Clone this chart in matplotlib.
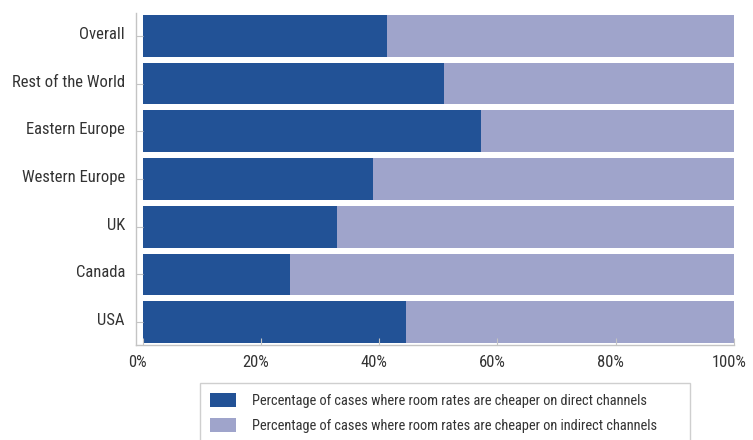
import matplotlib
matplotlib.use("Agg")
import matplotlib.pyplot as plt
import matplotlib.transforms as mtransforms
from matplotlib.ticker import FuncFormatter

categories = ["USA", "Canada", "UK", "Western Europe", "Eastern Europe", "Rest of the World", "Overall"]
direct = [44.6, 25.0, 32.9, 38.9, 57.3, 50.9, 41.4]
indirect = [100 - v for v in direct]
series_labels = [
    "Percentage of cases where room rates are cheaper on direct channels",
    "Percentage of cases where room rates are cheaper on indirect channels",
]
xticks = [0, 20, 40, 60, 80, 100]

DARK = "#225296"
LIGHT = "#9FA4CB"
GRID = "#c4c4c4"
TXT = "#333333"

plt.rcParams["font.family"] = ["Roboto Condensed", "DejaVu Sans"]

fig = plt.figure(figsize=(7.53, 4.40), dpi=100)
ax = fig.add_axes([136 / 753, 1 - 345 / 440, (734 - 136) / 753, (345 - 13) / 440])

y = list(range(len(categories)))
ax.barh(y, direct, height=0.875, color=DARK, label=series_labels[0])
ax.barh(y, indirect, left=direct, height=0.875, color=LIGHT, label=series_labels[1])

ax.set_xlim(-1.1, 100)
ax.set_ylim(-0.48, len(categories) - 1 + 0.48)
ax.set_yticks(y)
ax.set_yticklabels(categories)
ax.set_xticks(xticks)
ax.xaxis.set_major_formatter(FuncFormatter(lambda v, p: f"{v:.0f}%"))

for s in ["top", "right"]:
    ax.spines[s].set_visible(False)
for s in ["left", "bottom"]:
    ax.spines[s].set_color(GRID)
    ax.spines[s].set_linewidth(1.0)

ax.tick_params(axis="y", direction="in", length=5, color=GRID, pad=8, labelsize=12.0, labelcolor=TXT)
ax.tick_params(axis="x", direction="in", length=5, color=GRID, pad=7, labelsize=12.0, labelcolor=TXT)
for lab in ax.get_yticklabels():
    lab.set_transform(lab.get_transform() + mtransforms.ScaledTranslation(0, 3 / 100, fig.dpi_scale_trans))
for lab in ax.get_xticklabels():
    lab.set_transform(lab.get_transform() + mtransforms.ScaledTranslation(-5 / 100, 0, fig.dpi_scale_trans))

leg_h = 80 / 440
leg = fig.legend(loc="upper left",
                 bbox_to_anchor=(200 / 753, 1 - 383 / 440 - leg_h, 490 / 753, leg_h),
                 mode="expand", frameon=True, fancybox=False, edgecolor=GRID,
                 prop={"size": 10.4},
                 handlelength=1.8, handleheight=1.04, handletextpad=1.1,
                 borderpad=0.72, labelspacing=0.72, borderaxespad=0)
leg.get_frame().set_linewidth(1.0)
for t in leg.get_texts():
    t.set_color(TXT)

fig.savefig("out.png", dpi=100)
